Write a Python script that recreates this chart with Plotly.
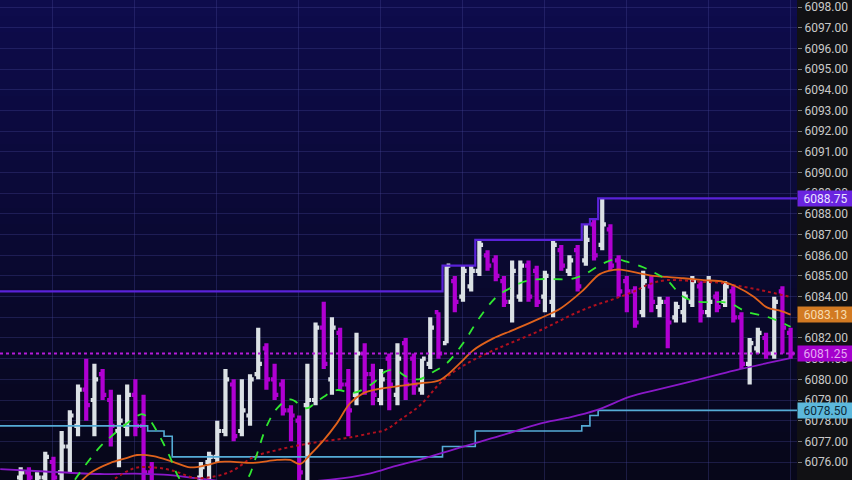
import plotly.graph_objects as go
import numpy as np

# ---------------- data ----------------
bar_idx = [2, 3, 4, 5, 6, 7, 8, 9, 10, 11, 12, 13, 14, 15, 16, 17, 18,
           24, 25, 26, 27, 28, 29, 30, 31, 32, 33, 34, 35, 36, 37, 38, 39, 40,
           41, 42, 43, 44, 45, 46, 47, 48, 49, 50, 51, 52, 53, 54, 55, 56, 57,
           58, 59, 60, 61, 62, 63, 64, 65, 66, 67, 68, 69, 70, 71, 72, 73, 74,
           75, 76, 77, 78, 79, 80, 81, 82, 83, 84, 85, 86, 87, 88, 89, 90, 91,
           92, 93, 94, 95, 96]
bar_open = [6075.25, 6075.5, 6075.0, 6075.25, 6076.0, 6075.5, 6076.75, 6077.75, 6079.5, 6079.0,
            6080.25, 6079.0, 6077.5, 6077.75, 6079.25, 6077.75, 6075.5,
            6075.25, 6076.0, 6076.25, 6077.5, 6079.75, 6077.5, 6078.25, 6080.25, 6081.5, 6080.0,
            6079.75, 6078.5, 6078.0, 6078.75, 6079.0, 6082.5, 6080.0, 6082.25, 6079.75, 6079.25,
            6081.25, 6080.25, 6079.0, 6081.0, 6079.25, 6081.75, 6081.0, 6079.5, 6080.75, 6083.25,
            6081.75, 6084.75, 6084.0, 6084.5, 6085.25, 6086.0, 6085.75, 6084.75, 6083.75, 6084.0,
            6085.5, 6085.25, 6084.0, 6083.75, 6086.25, 6085.25, 6086.25, 6085.75, 6087.5, 6086.5,
            6087.25, 6085.75, 6084.75, 6084.25, 6083.25, 6084.5, 6083.5, 6083.75, 6083.0, 6083.25,
            6083.75, 6084.5, 6083.25, 6084.0, 6083.75, 6084.25, 6083.0, 6080.75, 6081.5, 6082.0,
            6081.25, 6084.25, 6082.25]
bar_high = [6075.75, 6075.75, 6075.5, 6076.5, 6076.25, 6077.5, 6078.5, 6079.75, 6081.0, 6080.75,
            6080.5, 6079.5, 6079.25, 6079.75, 6080.0, 6079.25, 6076.0,
            6076.0, 6076.5, 6078.0, 6080.5, 6080.0, 6080.0, 6080.25, 6082.5, 6081.75, 6080.75,
            6080.0, 6078.75, 6078.25, 6080.75, 6082.75, 6083.75, 6083.0, 6082.5, 6080.5, 6082.25,
            6081.75, 6080.75, 6080.5, 6081.25, 6081.75, 6082.0, 6081.25, 6081.0, 6083.0, 6083.25,
            6085.5, 6085.0, 6085.5, 6085.5, 6086.75, 6086.25, 6086.0, 6085.0, 6085.75, 6085.75,
            6085.75, 6085.5, 6085.25, 6086.75, 6086.5, 6086.0, 6086.5, 6087.5, 6087.75, 6088.75,
            6087.5, 6086.0, 6085.0, 6084.5, 6085.25, 6085.0, 6084.0, 6084.0, 6083.75, 6084.25,
            6085.0, 6084.75, 6085.0, 6084.25, 6084.75, 6084.5, 6083.25, 6082.0, 6082.5, 6082.25,
            6084.0, 6084.5, 6082.5]
bar_low = [6075.0, 6074.75, 6074.75, 6074.75, 6074.5, 6075.0, 6075.5, 6077.25, 6078.0, 6077.25,
           6079.0, 6076.75, 6075.75, 6077.25, 6077.25, 6074.5, 6074.5,
           6074.75, 6074.75, 6076.0, 6077.25, 6077.0, 6077.25, 6077.75, 6080.0, 6079.5, 6079.0,
           6078.25, 6077.0, 6074.75, 6074.75, 6078.75, 6080.5, 6079.25, 6079.5, 6077.25, 6078.75,
           6079.25, 6078.75, 6078.75, 6078.5, 6078.75, 6079.0, 6079.25, 6079.25, 6080.5, 6081.0,
           6081.75, 6083.25, 6083.75, 6084.25, 6085.0, 6085.25, 6084.75, 6083.5, 6082.75, 6083.75,
           6083.75, 6083.5, 6083.25, 6083.0, 6085.25, 6085.0, 6084.25, 6085.5, 6085.75, 6086.25,
           6085.25, 6084.0, 6083.25, 6082.5, 6083.0, 6083.25, 6083.0, 6081.5, 6082.75, 6082.75,
           6083.5, 6082.75, 6083.0, 6083.25, 6083.5, 6082.75, 6080.5, 6079.75, 6081.25, 6081.0,
           6081.0, 6081.25, 6081.0]
bar_close = [6075.5, 6075.25, 6075.25, 6076.25, 6075.25, 6076.75, 6078.25, 6079.5, 6078.75, 6080.0,
             6079.25, 6077.75, 6078.0, 6079.25, 6077.75, 6075.5, 6074.5,
             6075.75, 6076.25, 6077.5, 6080.0, 6077.25, 6078.5, 6080.0, 6080.75, 6080.0, 6079.25,
             6078.5, 6078.25, 6075.5, 6079.0, 6082.5, 6080.75, 6082.5, 6079.75, 6078.5, 6081.25,
             6080.25, 6079.25, 6080.0, 6079.75, 6081.0, 6079.75, 6079.75, 6081.0, 6082.5, 6081.25,
             6085.5, 6083.75, 6085.25, 6085.25, 6086.5, 6085.5, 6085.0, 6083.75, 6085.25, 6085.5,
             6084.0, 6083.75, 6085.0, 6086.5, 6085.5, 6085.75, 6084.5, 6086.75, 6086.0, 6087.5,
             6085.5, 6084.25, 6084.25, 6082.75, 6084.75, 6083.75, 6083.75, 6082.75, 6083.5, 6084.0,
             6084.75, 6083.25, 6083.75, 6083.5, 6084.5, 6083.0, 6080.75, 6081.75, 6082.25, 6081.25,
             6083.75, 6082.5, 6081.25]

# fast MA (green dashed)
green_x = [7.5, 8.6, 10.1, 11.7, 13.7, 15.8, 16.8, 17.6, 19.0, 20.2, 21.5, 25.5, 29.6, 30.6, 32.0,
           33.3, 34.9, 36.9, 37.9, 39.0, 40.6, 42.6, 45.0, 46.5, 47.7, 49.1, 50.6, 52.4, 54.0,
           56.0, 58.1, 60.1, 61.7, 63.4, 65.0, 67.0, 69.1, 70.7, 72.4, 73.6, 74.8, 76.0, 78.0,
           79.5, 80.9, 82.9, 84.9, 87.0, 88.6, 90.6, 93.1, 94.7, 96.0]
green_y = [6074.4, 6075.13, 6075.95, 6076.74, 6077.46, 6078.11, 6078.32, 6078.11, 6077.22, 6076.26,
           6075.13, 6073.6, 6075.13, 6076.10, 6077.71, 6078.60, 6079.03, 6078.60, 6078.84, 6079.16,
           6079.48, 6079.34, 6079.81, 6080.37, 6080.45, 6080.13, 6080.0, 6080.37, 6080.77, 6081.74,
           6083.03, 6083.99, 6084.40, 6084.72, 6084.84, 6084.85, 6084.85, 6085.05, 6085.45, 6085.69,
           6085.81, 6085.69, 6085.42, 6085.13, 6084.80, 6083.99, 6083.75, 6083.75, 6083.68, 6083.27,
           6083.03, 6082.79, 6082.54]
# medium MA (orange)
orange_x = [8.6, 10.5, 12.9, 14.9, 16.2, 18.2, 20.6, 22.7, 24.7, 26.3, 28.0, 30.4, 33.3, 34.9,
            36.1, 37.3, 39.0, 40.6, 42.2, 43.8, 45.5, 47.7, 50.8, 53.2, 55.6, 57.3, 59.7, 62.1,
            65.4, 67.9, 70.7, 72.7, 74.4, 75.2, 77.6, 79.2, 80.9, 82.9, 85.4, 87.8, 89.4, 91.5,
            93.1, 94.7, 96.0]
orange_y = [6074.74, 6075.47, 6075.95, 6076.19, 6076.34, 6076.29, 6076.01, 6075.74, 6075.85,
            6076.01, 6076.01, 6075.96, 6076.10, 6076.10, 6075.90, 6076.34, 6077.06, 6077.87,
            6078.84, 6079.32, 6079.52, 6079.65, 6079.81, 6079.97, 6080.77, 6081.42, 6081.98,
            6082.38, 6082.95, 6083.43, 6084.32, 6085.09, 6085.29, 6085.31, 6085.13, 6085.0,
            6084.96, 6084.89, 6084.80, 6084.72, 6084.48, 6084.0, 6083.48, 6083.32, 6083.13]
# slow MA (dark red dotted)
red_x = [12.9, 15.8, 18.2, 20.6, 23.3, 25.9, 28.0, 30.4, 33.3, 36.1, 38.5, 41.8, 44.7, 46.5,
         48.3, 50.8, 53.6, 56.5, 59.3, 61.7, 64.6, 67.0, 69.5, 71.9, 74.4, 76.8, 78.8, 80.9,
         84.9, 87.4, 89.0, 92.3, 96.0]
red_y = [6075.03, 6075.69, 6075.74, 6075.58, 6075.23, 6075.32, 6075.61, 6076.24, 6076.58,
         6076.82, 6076.98, 6077.16, 6077.39, 6077.55, 6078.03, 6078.76, 6079.97, 6080.77,
         6081.33, 6081.74, 6082.22, 6082.67, 6083.16, 6083.55, 6083.88, 6084.24, 6084.61,
         6084.80, 6084.72, 6084.67, 6084.56, 6084.32, 6083.98]
# slowest MA (violet)
violet_x = [-0.5, 5.0, 11.7, 16.0, 19.4, 23.5, 28.8, 36.1, 41.4, 44.7, 47.7, 50.8, 55.6, 60.5,
            65.4, 68.7, 72.3, 76.4, 79.5, 82.9, 87.0, 89.8, 93.1, 96.0]
violet_y = [6075.66, 6075.54, 6075.42, 6075.44, 6075.39, 6075.22, 6074.98, 6075.03, 6075.22,
            6075.45, 6075.80, 6076.12, 6076.70, 6077.26, 6077.86, 6078.13, 6078.51, 6079.16,
            6079.48, 6079.81, 6080.21, 6080.49, 6080.78, 6081.02]

# highest-high channel (step)
hh_start = [-1, 54, 58, 71, 72, 73]
hh_level = [6084.25, 6085.5, 6086.75, 6087.5, 6087.75, 6088.75]
# lowest-low channel (step)
ll_start = [-1, 18, 20, 21, 54, 58, 71, 72, 73]
ll_level = [6077.75, 6077.5, 6077.25, 6076.25, 6076.75, 6077.5, 6077.75, 6078.25, 6078.5]

last_price = 6081.25
orange_last = 6083.13

tick_vals = list(range(6076, 6099))

# ---------------- figure ----------------
PLOT_W = 797
W, H = 852, 480
xr = [-0.527, 96.78]
yr = [6075.13, 6098.35]

def steps(starts, levels, end=99):
    xs, ys = [], []
    for k, (s, lv) in enumerate(zip(starts, levels)):
        e = starts[k + 1] - 1 if k + 1 < len(starts) else end
        xs += [s, e]
        ys += [lv, lv]
    return xs, ys

fig = go.Figure()

# gradient background bands
top = np.array([14, 12, 76])
bot = np.array([7, 7, 26])
nb = 30
for k in range(nb):
    t = k / (nb - 1)
    c = top + (bot - top) * t
    fig.add_shape(type="rect", xref="x domain", yref="y domain",
                  x0=0, x1=1, y0=1 - (k + 1) / nb, y1=1 - k / nb,
                  fillcolor="rgb(%d,%d,%d)" % tuple(c.astype(int)),
                  line_width=0, layer="below")

fig.add_trace(go.Ohlc(x=bar_idx, open=bar_open, high=bar_high, low=bar_low, close=bar_close,
                      increasing_line_color="#dbe1e5", decreasing_line_color="#b000d2",
                      line_width=4.2, tickwidth=0.45, hoverinfo="skip"))

sx, sy = steps(ll_start, ll_level)
fig.add_trace(go.Scatter(x=sx, y=sy, mode="lines", line=dict(color="#55acd6", width=1.6, shape="hvh"),
                         hoverinfo="skip"))
sx, sy = steps(hh_start, hh_level)
fig.add_trace(go.Scatter(x=sx, y=sy, mode="lines", line=dict(color="#5a22d8", width=2.2, shape="hvh"),
                         hoverinfo="skip"))

fig.add_trace(go.Scatter(x=violet_x, y=violet_y, mode="lines",
                         line=dict(color="#8a18c8", width=1.8, shape="spline"), hoverinfo="skip"))
fig.add_trace(go.Scatter(x=red_x, y=red_y, mode="lines",
                         line=dict(color="#b0101e", width=2, dash="dot", shape="spline"), hoverinfo="skip"))
fig.add_trace(go.Scatter(x=orange_x, y=orange_y, mode="lines",
                         line=dict(color="#e0621c", width=1.8, shape="spline"), hoverinfo="skip"))
fig.add_trace(go.Scatter(x=green_x, y=green_y, mode="lines",
                         line=dict(color="#30e830", width=1.8, dash="dash", shape="spline"), hoverinfo="skip"))

# last price dotted line
fig.add_shape(type="line", xref="x domain", yref="y", x0=0, x1=1, y0=last_price, y1=last_price,
              line=dict(color="#b41ad8", width=2, dash="dot"))

def tag(v, bg, fg):
    fig.add_annotation(x=PLOT_W / W, xref="paper", xanchor="left", y=v, yref="y", yanchor="middle",
                       text="%.2f" % v, showarrow=False, bgcolor=bg, width=51, height=11,
                       borderpad=2, align="center",
                       font=dict(family="Roboto, sans-serif", size=12, color=fg))

tag(hh_level[-1], "#6a24e0", "#ece4ff")
tag(orange_last, "#d27a22", "#f6dcb0")
tag(last_price, "#a400cc", "#e6a8f4")
tag(ll_level[-1], "#5cb8dc", "#0e2a3a")

fig.update_layout(
    template="none",
    width=W, height=H, margin=dict(l=0, r=0, t=0, b=0, pad=0, autoexpand=False),
    paper_bgcolor="#111114", plot_bgcolor="#0a0a30",
    showlegend=False,
    xaxis=dict(domain=[0, PLOT_W / W], range=xr, showticklabels=False, showgrid=True,
               gridcolor="rgba(70,70,150,0.35)", gridwidth=1, tick0=5.93, dtick=10, ticks="",
               zeroline=False, rangeslider=dict(visible=False), fixedrange=True, automargin=False,
               showline=False),
    yaxis=dict(side="right", range=yr, tickvals=tick_vals, automargin=False,
               ticktext=["%.2f" % v for v in tick_vals], showgrid=True,
               gridcolor="rgba(70,70,150,0.35)", gridwidth=1, zeroline=False,
               ticks="outside", ticklen=4, tickcolor="#777777",
               tickfont=dict(family="Roboto, sans-serif", size=12, color="#c9c9c9"),
               showline=False, fixedrange=True),
)

fig.write_html("out.html", config={"displayModeBar": False},
               post_script="document.body.style.margin='0';document.body.style.overflow='hidden';")
